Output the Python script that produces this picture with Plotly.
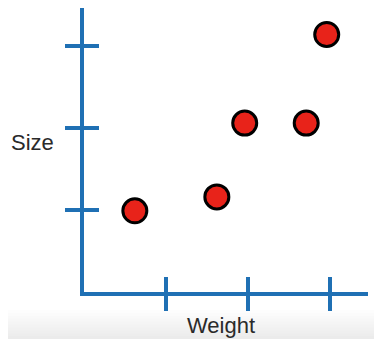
import plotly.graph_objects as go

# Data (axis units: one tick = 1)
weight = [0.62, 1.62, 1.96, 2.71, 2.96]
size = [0.99, 1.16, 2.06, 2.06, 3.14]
tick_vals = [1, 2, 3]

# page has an 8px body margin, so the figure is drawn 8px smaller and offset
OFF = 8
PAGE_W, PAGE_H = 382, 339
W, H = PAGE_W - OFF, PAGE_H - OFF
PL, PT = 84, 8            # plot area top-left, page pixels
PW, PH = 284, 284         # plot area size
L, T = PL - OFF, PT - OFF
R, B = W - L - PW, H - T - PH
AX_BLUE = "#1f70b4"
X_MAX = PW / 82
Y_MAX = PH / 82


def px_x(p):  # page px -> paper x
    return (p - PL) / PW


def px_y(p):  # page px -> paper y
    return (PT + PH - p) / PH


fig = go.Figure()
fig.add_trace(go.Scatter(
    x=weight, y=size, mode="markers",
    marker=dict(size=24, color="#e8231a", line=dict(color="#000000", width=3)),
    hoverinfo="skip", showlegend=False, cliponaxis=False,
))
fig.add_trace(go.Scatter(x=[None], y=[None], xaxis="x2", yaxis="y2",
                         showlegend=False, hoverinfo="skip"))

axis_common = dict(showgrid=False, zeroline=False, showticklabels=False,
                   tickcolor=AX_BLUE, tickwidth=3.5, ticklen=15,
                   tickvals=tick_vals, fixedrange=True)

fig.update_layout(
    width=W, height=H, autosize=False,
    margin=dict(l=L, r=R, t=T, b=B, pad=0),
    paper_bgcolor="white", plot_bgcolor="white",
    xaxis=dict(range=[0, X_MAX], showline=True, linecolor=AX_BLUE, linewidth=3.5,
               ticks="outside", **axis_common),
    yaxis=dict(range=[0, Y_MAX], showline=True, linecolor=AX_BLUE, linewidth=3.5,
               ticks="outside", **axis_common),
    xaxis2=dict(range=[0, X_MAX], overlaying="x", showline=False,
                ticks="inside", side="bottom", **axis_common),
    yaxis2=dict(range=[0, Y_MAX], overlaying="y", showline=False,
                ticks="inside", side="left", **axis_common),
    font=dict(family="Liberation Sans, Arial, Helvetica, sans-serif", color="#2a2a2a"),
)

# bottom gray gradient band
band_top, band_bot = 310, PAGE_H
steps = 10
for i in range(steps):
    y0 = band_top + (band_bot - band_top) * i / steps
    y1 = band_top + (band_bot - band_top) * (i + 1) / steps
    g = int(253 - 18 * i / (steps - 1))
    fig.add_shape(type="rect", xref="paper", yref="paper", layer="below",
                  x0=px_x(6), x1=px_x(PAGE_W + 2),
                  y0=px_y(y1 + 0.5), y1=px_y(y0),
                  fillcolor=f"rgb({g},{g},{g})", line=dict(width=0))

fig.add_annotation(text="Size", xref="paper", yref="paper",
                   x=px_x(32), y=px_y(142),
                   xanchor="center", yanchor="middle", showarrow=False,
                   font=dict(size=22))
fig.add_annotation(text="Weight", xref="paper", yref="paper",
                   x=px_x(221), y=px_y(325),
                   xanchor="center", yanchor="middle", showarrow=False,
                   font=dict(size=22))

fig.write_html("out.html")
